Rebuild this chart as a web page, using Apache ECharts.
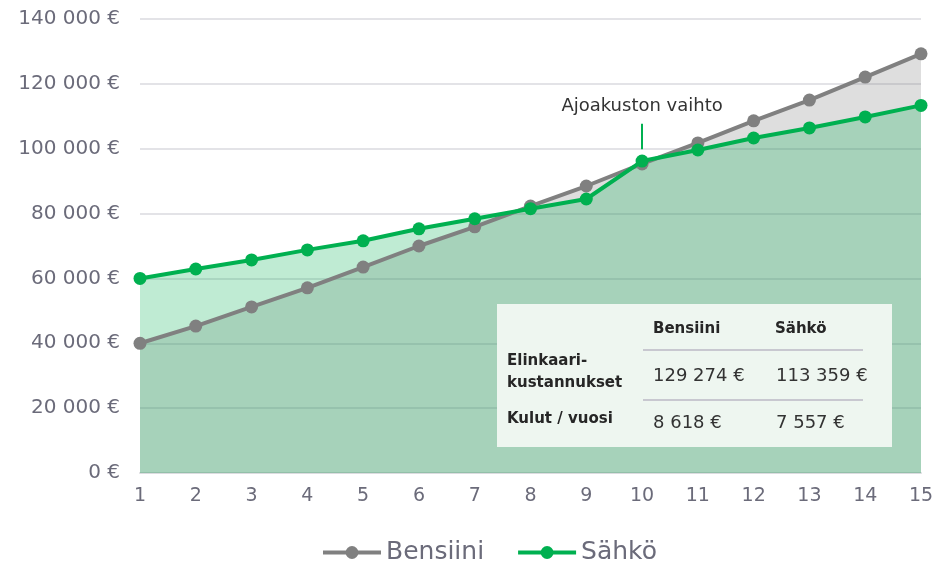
<!DOCTYPE html>
<html>
<head>
<meta charset="utf-8">
<script src="https://cdn.jsdelivr.net/npm/echarts@6/dist/echarts.min.js"></script>
<style>
  html, body { margin: 0; padding: 0; background: #fff; }
  #main { width: 937px; height: 564px; }
</style>
</head>
<body>
<div id="main"></div>
<script>
// years of ownership
var years = ['1', '2', '3', '4', '5', '6', '7', '8', '9', '10', '11', '12', '13', '14', '15'];
// cumulative cost, petrol car
var bensiini = [40000, 45300, 51200, 57100, 63500, 70000, 75900, 82300, 88500, 95300, 101800, 108600, 115000, 122100, 129274];
// cumulative cost, electric car
var sahko = [60000, 62900, 65700, 68800, 71600, 75300, 78400, 81500, 84500, 96200, 99600, 103300, 106400, 109800, 113359];
var yTicks = [0, 20000, 40000, 60000, 80000, 100000, 120000, 140000];
// summary table
var tableHead = ['Bensiini', 'Sähkö'];
var tableLife = ['129 274 €', '113 359 €'];
var tableYear = ['8 618 €', '7 557 €'];

var FONT = '"DejaVu Sans", Verdana, sans-serif';
var GREEN = '#00b050';
var GREY = '#808080';

function euro(v) {
    return String(v).replace(/\B(?=(\d{3})+(?!\d))/g, ' ') + ' €';
}

// table elements, all above the series
function cell(x, y, text, bold) {
    return {
        type: 'text', x: x, y: y, z: 101,
        style: {
            text: text,
            font: bold ? 'bold 15px ' + FONT : '18px ' + FONT,
            fill: bold ? '#262626' : '#333',
            verticalAlign: 'middle'
        }
    };
}
function rule(y) {
    return { type: 'line', z: 101, shape: { x1: 146, y1: y, x2: 366, y2: y }, style: { stroke: '#c8c8d0', lineWidth: 2 } };
}

var chart = echarts.init(document.getElementById('main'));

var option = {
    animation: false,
    backgroundColor: '#fff',
    grid: { left: 140, right: 16, top: 19, bottom: 91 },
    legend: {
        data: ['Bensiini', 'Sähkö'],
        bottom: -6,
        left: 316,
        itemWidth: 58,
        itemHeight: 16,
        itemGap: 32,
        lineStyle: { width: 4 },
        textStyle: { color: '#6b6b7a', fontSize: 25, fontFamily: FONT, padding: [0, 0, 0, 0] }
    },
    xAxis: {
        type: 'category',
        data: years,
        boundaryGap: false,
        axisLine: { lineStyle: { color: '#dcdce0', width: 2 } },
        axisTick: { show: false },
        axisLabel: { color: '#6b6b7a', fontSize: 19, fontFamily: FONT, margin: 14 }
    },
    yAxis: {
        type: 'value',
        min: yTicks[0],
        max: yTicks[yTicks.length - 1],
        interval: 20000,
        axisLine: { show: false },
        axisTick: { show: false },
        splitLine: { lineStyle: { color: '#dadadf', width: 1.5 } },
        axisLabel: { color: '#6b6b7a', fontSize: 20, fontFamily: FONT, margin: 20, formatter: euro }
    },
    series: [
        /* fills first, lines drawn on top */
        {
            name: 'bensiini-area',
            type: 'line',
            data: bensiini,
            symbol: 'none',
            lineStyle: { width: 0 },
            areaStyle: { color: 'rgba(128,128,128,0.26)', opacity: 1 },
            z: 1
        },
        {
            name: 'sahko-area',
            type: 'line',
            data: sahko,
            symbol: 'none',
            lineStyle: { width: 0 },
            areaStyle: { color: 'rgba(0,176,80,0.25)', opacity: 1 },
            z: 1
        },
        {
            name: 'Bensiini',
            type: 'line',
            data: bensiini,
            color: GREY,
            symbol: 'circle',
            symbolSize: 13,
            lineStyle: { width: 4, color: GREY },
            itemStyle: { color: GREY },
            z: 3
        },
        {
            name: 'Sähkö',
            type: 'line',
            data: sahko,
            color: GREEN,
            symbol: 'circle',
            symbolSize: 13,
            lineStyle: { width: 4, color: GREEN },
            itemStyle: { color: GREEN },
            z: 4,
            markLine: {
                silent: true,
                symbol: 'none',
                lineStyle: { color: GREEN, width: 2, type: 'solid' },
                label: {
                    show: true,
                    position: 'end',
                    formatter: 'Ajoakuston vaihto',
                    color: '#333',
                    fontSize: 18,
                    fontFamily: FONT,
                    distance: 8
                },
                data: [[{ coord: ['10', 99800] }, { coord: ['10', 107700] }]]
            }
        }
    ],
    graphic: [
        {
            type: 'group',
            left: 497,
            top: 304,
            z: 100,
            children: [
                { type: 'rect', z: 100, shape: { x: 0, y: 0, width: 395, height: 143 }, style: { fill: '#eef6f0' } },
                cell(156, 25, tableHead[0], true),
                cell(278, 25, tableHead[1], true),
                rule(46),
                cell(10, 57, 'Elinkaari-', true),
                cell(10, 79, 'kustannukset', true),
                cell(156, 72, tableLife[0], false),
                cell(279, 72, tableLife[1], false),
                rule(96),
                cell(10, 115, 'Kulut / vuosi', true),
                cell(156, 119, tableYear[0], false),
                cell(279, 119, tableYear[1], false)
            ]
        }
    ]
};

chart.setOption(option);
</script>
</body>
</html>
